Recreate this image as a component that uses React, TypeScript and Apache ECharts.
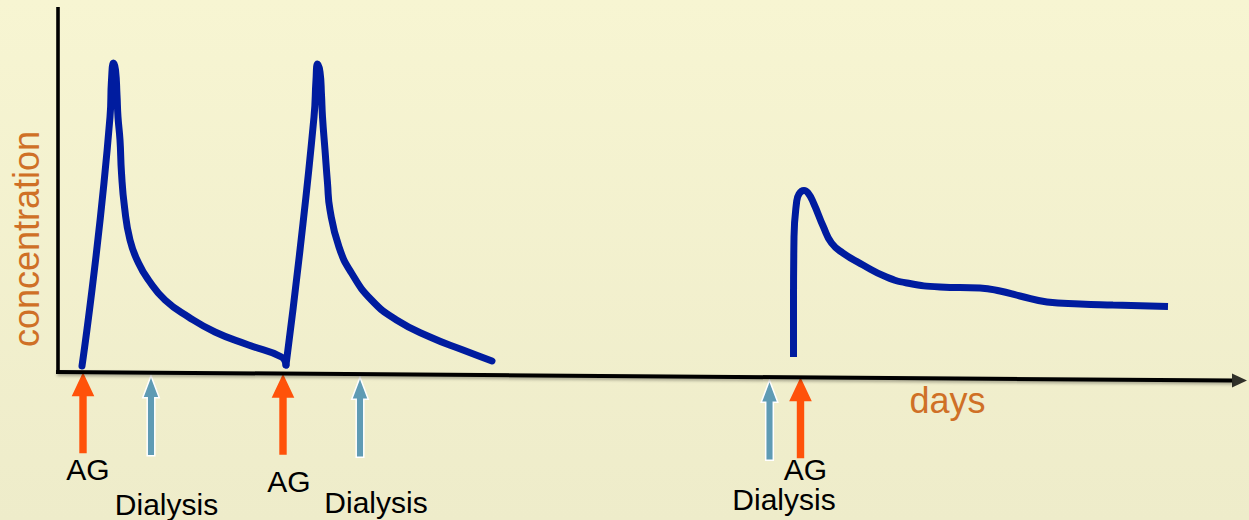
import { useEffect, useRef } from "react";
import * as echarts from "echarts";

// ---- data (x: days, y: concentration, arbitrary units) ----
const doseOneCurve: [number, number][] = [
  [0.48, 1.75], [1.04, 82.2], [1.07, 94.15], [1.11, 99.65], [1.15, 97.39],
  [1.18, 89.31], [1.2, 82.2], [1.24, 74.77], [1.27, 64.11], [1.33, 53.12],
  [1.44, 42.46], [1.61, 35.03], [1.81, 29.54], [2.14, 23.08], [2.61, 17.59],
  [3.14, 12.74], [3.81, 8.54], [4.47, 4.66], [4.56, 2.08],
];
const doseTwoCurve: [number, number][] = [
  [4.56, 2.08], [4.84, 39.23], [5.12, 82.2], [5.16, 94.15], [5.19, 99.32], [5.24, 96.74],
  [5.27, 89.31], [5.29, 82.2], [5.34, 71.54], [5.39, 60.88], [5.44, 52.16],
  [5.62, 40.2], [5.87, 31.8], [6.27, 23.08], [6.77, 16.62], [7.44, 11.12],
  [8.1, 6.92], [8.68, 3.37],
];
const doseThreeCurve: [number, number][] = [
  [14.71, 4.66], [14.71, 22.11], [14.72, 43.43], [14.77, 54.42], [14.82, 57.32],
  [14.92, 58.45], [15.0, 57.65], [15.11, 54.42], [15.31, 46.66], [15.47, 41.49],
  [15.7, 38.26], [16.1, 34.39], [16.57, 30.51], [16.98, 28.57], [17.64, 27.28],
  [18.44, 26.95], [18.84, 25.99], [19.24, 24.37], [19.78, 22.43], [20.44, 21.79],
  [21.1, 21.46], [22.2, 20.98],
];
const eventDays = [0.5, 1.86, 4.5, 6.04, 14.23, 14.85];
const eventLabels = ["AG", "Dialysis", "AG", "Dialysis", "Dialysis", "AG"];
const yAxisLinePoints: [number, number][] = [[0, -0.2], [0, 117.7]];
const xAxisLinePoints: [number, number][] = [[-0.04, -0.18], [23.48, -2.93]];
const xArrowHead: [number, number] = [23.63, -2.93];
const xAxisName = "days";
const yAxisName = "concentration";

// ---- layout (pixels) ----
const labelOffsets = [[5, 97], [15.5, 129], [6, 108], [16, 125], [14.5, 119], [5, 92]];

const FONT = "'Liberation Sans', Arial, Helvetica, sans-serif";
const ORANGE = "#FF520A";
const TEAL = "#5F9BB4";
const LINE_BLUE = "#001C9F";
const NAME_COLOR = "#CF7026";

function axisYAt(day: number) {
  const [a, b] = xAxisLinePoints;
  return a[1] + ((b[1] - a[1]) * (day - a[0])) / (b[0] - a[0]);
}

export default function App() {
  const ref = useRef<HTMLDivElement>(null);
  useEffect(() => {
    if (!ref.current) return;
    const chart = echarts.init(ref.current, null, { renderer: "svg" });
    const curveStyle = (cap: string) => ({
      color: LINE_BLUE,
      width: 7,
      cap,
      join: "round",
    });
    chart.setOption({
      animation: false,
      backgroundColor: new echarts.graphic.LinearGradient(0, 0, 0, 1, [
        { offset: 0, color: "#F7F5D2" },
        { offset: 1, color: "#EEECCA" },
      ]),
      grid: { left: 0, right: 0, top: 0, bottom: 0 },
      xAxis: { type: "value", min: -1.16, max: 23.82, show: false },
      yAxis: { type: "value", min: -48, max: 120, show: false },
      series: [
        {
          type: "line",
          data: yAxisLinePoints,
          symbol: "none",
          silent: true,
          lineStyle: { color: "#000", width: 3.6, cap: "butt" },
        },
        {
          type: "line",
          data: xAxisLinePoints,
          symbol: "none",
          silent: true,
          lineStyle: {
            color: "#000",
            width: 4,
            cap: "butt",
            shadowColor: "rgba(0,0,0,0.3)",
            shadowBlur: 3,
            shadowOffsetX: 1,
            shadowOffsetY: 2,
          },
        },
        {
          type: "scatter",
          data: [xArrowHead],
          symbol: "triangle",
          symbolRotate: -90,
          symbolSize: [14, 15],
          itemStyle: { color: "#000" },
          silent: true,
        },
        {
          type: "line",
          data: doseOneCurve,
          symbol: "none",
          smooth: 0.5,
          lineStyle: curveStyle("round"),
        },
        {
          type: "line",
          data: doseTwoCurve,
          symbol: "none",
          smooth: 0.5,
          lineStyle: curveStyle("round"),
        },
        {
          type: "line",
          data: doseThreeCurve,
          symbol: "none",
          smooth: 0.5,
          lineStyle: curveStyle("butt"),
        },
        {
          type: "custom",
          clip: false,
          data: eventDays.map((d, i) => [d, 0, i]),
          encode: { x: 0, y: 1 },
          renderItem: (params: any, api: any) => {
            const day = api.value(0);
            const i = api.value(2);
            const isAG = eventLabels[i] === "AG";
            const [tx, axisPy] = api.coord([day, axisYAt(day)]);
            const ty = axisPy + (isAG ? 0 : 3);
            const L = isAG ? 81 : 80;
            const hl = isAG ? 24 : 22;
            const hh = isAG ? 11.3 : 8.3;
            const sh = isAG ? 3.7 : 3.8;
            const pts = [
              [tx, ty], [tx + hh, ty + hl], [tx + sh, ty + hl], [tx + sh, ty + L],
              [tx - sh, ty + L], [tx - sh, ty + hl], [tx - hh, ty + hl],
            ];
            const off = labelOffsets[i];
            return {
              type: "group",
              children: [
                {
                  type: "polygon",
                  shape: { points: pts },
                  style: isAG
                    ? { fill: ORANGE }
                    : { fill: TEAL, stroke: "#FFFFFF", lineWidth: 1.5 },
                },
                {
                  type: "text",
                  x: tx + off[0],
                  y: ty + off[1],
                  style: {
                    text: eventLabels[i],
                    fill: "#000",
                    fontSize: 30,
                    fontFamily: FONT,
                    align: "center",
                    verticalAlign: "middle",
                  },
                },
              ],
            };
          },
        },
      ],
      graphic: [
        {
          type: "text",
          x: 26,
          y: 239,
          rotation: Math.PI / 2,
          style: {
            text: yAxisName,
            fill: NAME_COLOR,
            fontSize: 36,
            fontFamily: FONT,
            align: "center",
            verticalAlign: "middle",
          },
        },
        {
          type: "text",
          x: 947.5,
          y: 400,
          style: {
            text: xAxisName,
            fill: NAME_COLOR,
            fontSize: 36,
            fontFamily: FONT,
            align: "center",
            verticalAlign: "middle",
          },
        },
      ],
    });
    return () => chart.dispose();
  }, []);
  return (
    <div
      ref={ref}
      style={{ position: "absolute", left: 0, top: 0, width: 1249, height: 520 }}
    />
  );
}
